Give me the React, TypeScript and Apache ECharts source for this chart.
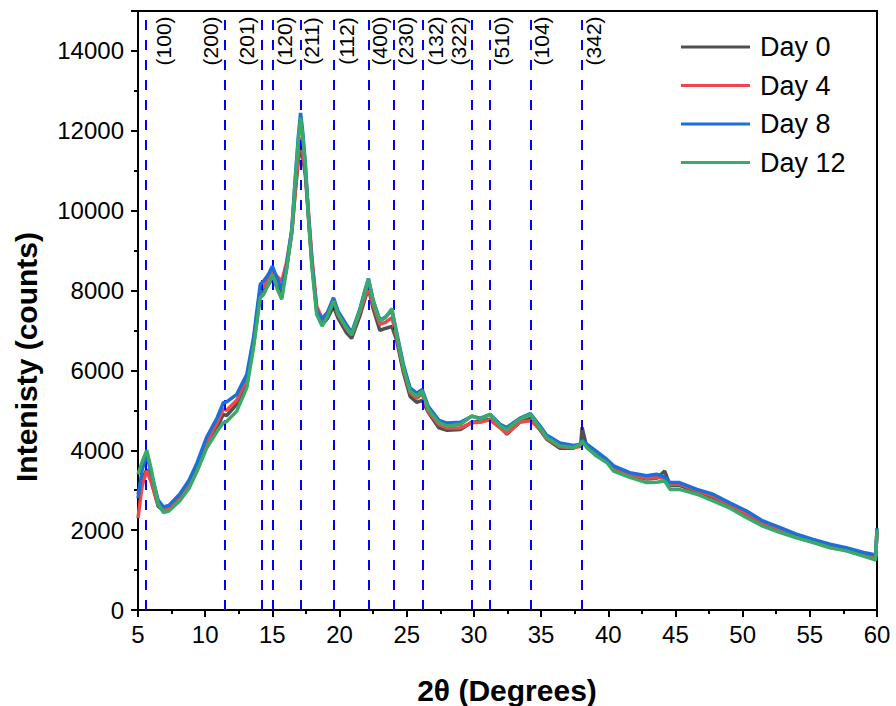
import React, { useEffect, useRef } from "react";
import * as echarts from "echarts";

const twoTheta = [5.0, 5.3, 5.65, 6.0, 6.5, 6.9, 7.3, 8.1, 8.8, 9.4, 10.1, 10.9, 11.35, 11.6, 12.35, 13.1, 13.6, 14.1, 14.35, 14.7, 15.0, 15.35, 15.7, 16.05, 16.45, 16.7, 16.93, 17.1, 17.25, 17.45, 17.7, 17.95, 18.3, 18.7, 19.1, 19.55, 19.9, 20.5, 20.9, 21.5, 21.9, 22.15, 22.5, 23.0, 23.4, 23.9, 24.25, 24.75, 25.25, 25.75, 26.15, 26.6, 27.4, 28.0, 29.0, 29.85, 30.45, 31.2, 31.95, 32.45, 33.4, 34.2, 34.9, 35.4, 36.4, 37.4, 37.95, 38.05, 38.4, 39.1, 39.9, 40.4, 41.6, 42.85, 43.6, 44.2, 44.6, 45.3, 46.6, 47.8, 49.0, 50.3, 51.5, 52.8, 54.0, 55.25, 56.5, 57.7, 59.0, 59.75, 59.9, 60.0];

const day0 = [2900, 3250, 3520, 3200, 2600, 2480, 2520, 2770, 3080, 3520, 4100, 4580, 4900, 4870, 5150, 5700, 6650, 7950, 8000, 8150, 8300, 8100, 7950, 8550, 9450, 10450, 11250, 11580, 11350, 10900, 9800, 8700, 7500, 7150, 7300, 7600, 7300, 6950, 6800, 7350, 7800, 8060, 7550, 7000, 7050, 7100, 6750, 5950, 5350, 5200, 5250, 4950, 4560, 4500, 4520, 4700, 4720, 4780, 4580, 4400, 4700, 4800, 4520, 4280, 4050, 4050, 4150, 4570, 4080, 3900, 3720, 3540, 3380, 3280, 3300, 3480, 3120, 3120, 2960, 2820, 2630, 2400, 2170, 2000, 1850, 1720, 1600, 1520, 1400, 1340, 1330, 1950];

const day4 = [2300, 3100, 3480, 3200, 2650, 2520, 2560, 2820, 3150, 3600, 4200, 4700, 5040, 5000, 5250, 5800, 6720, 8050, 8100, 8300, 8500, 8350, 8230, 8700, 9500, 10500, 11400, 11830, 11500, 11000, 9900, 8800, 7600, 7300, 7450, 7700, 7400, 7050, 6880, 7450, 7850, 8080, 7650, 7150, 7200, 7320, 6850, 6050, 5450, 5300, 5420, 4980, 4640, 4560, 4560, 4690, 4700, 4760, 4560, 4420, 4700, 4740, 4550, 4300, 4090, 4060, 4100, 4200, 4100, 3920, 3740, 3560, 3400, 3300, 3320, 3300, 3150, 3150, 2990, 2850, 2650, 2420, 2190, 2020, 1870, 1740, 1620, 1530, 1420, 1360, 1350, 2000];

const day8 = [2800, 3500, 3900, 3400, 2750, 2580, 2620, 2900, 3250, 3690, 4320, 4820, 5190, 5210, 5400, 5900, 6820, 8160, 8240, 8400, 8610, 8300, 8040, 8600, 9550, 10800, 11850, 12450, 12000, 11200, 9800, 8650, 7500, 7270, 7450, 7820, 7480, 7150, 6950, 7520, 8020, 8300, 7760, 7260, 7330, 7500, 6950, 6150, 5560, 5430, 5520, 5100, 4750, 4680, 4700, 4850, 4800, 4900, 4650, 4570, 4800, 4920, 4620, 4380, 4180, 4120, 4150, 4250, 4150, 3980, 3770, 3610, 3440, 3360, 3400, 3330, 3190, 3190, 3020, 2900, 2690, 2480, 2230, 2060, 1900, 1770, 1650, 1560, 1440, 1390, 1380, 2050];

const day12 = [3400, 3700, 4000, 3500, 2650, 2440, 2480, 2730, 3050, 3480, 4050, 4480, 4690, 4720, 4980, 5570, 6570, 7820, 7900, 8150, 8400, 8050, 7780, 8500, 9490, 10740, 11740, 12330, 11900, 11160, 9740, 8570, 7400, 7110, 7350, 7740, 7400, 7070, 6900, 7490, 7990, 8280, 7740, 7240, 7320, 7550, 6900, 6070, 5480, 5360, 5480, 5030, 4690, 4610, 4650, 4860, 4780, 4900, 4610, 4520, 4780, 4900, 4570, 4320, 4110, 4070, 4150, 4230, 4070, 3860, 3690, 3480, 3320, 3190, 3200, 3230, 3020, 3020, 2900, 2730, 2560, 2310, 2100, 1940, 1810, 1690, 1560, 1480, 1350, 1270, 1250, 2000];

const seriesNames = ["Day 0", "Day 4", "Day 8", "Day 12"];
const seriesColors = ["#505050", "#f04848", "#1a6fd8", "#3aaa6a"];

const peakPositions = [5.6, 11.47, 14.23, 15.0, 17.13, 19.6, 22.19, 24.03, 26.2, 29.87, 31.21, 34.22, 38.06];
const peakLabels = ["(100)", "(200)", "(201)", "(120)", "(211)", "(112)", "(400)", "(230)", "(132)", "(322)", "(510)", "(104)", "(342)"];
const peakLabelX = [6.88, 10.36, 13.09, 15.94, 17.92, 20.53, 22.96, 24.94, 27.17, 28.83, 32.06, 35.04, 38.88];
const peakLabelY = 14250;

const xTicks = { min: 5, max: 60, interval: 5 };
const yTicks = { min: 0, max: 15000, interval: 2000 };

const FONT = "Liberation Sans, Arial, sans-serif";

export default function App() {
  const ref = useRef<HTMLDivElement>(null);
  useEffect(() => {
    if (!ref.current) return;
    const chart = echarts.init(ref.current, null, { renderer: "svg" });
    const allSeries = [day0, day4, day8, day12];
    const lineSeries = allSeries.map((vals, i) => ({
      name: seriesNames[i],
      type: "line",
      showSymbol: false,
      symbol: "none",
      data: twoTheta.map((x, j) => [x, vals[j]]),
      lineStyle: { width: 3.5, color: seriesColors[i] },
      itemStyle: { color: seriesColors[i] },
      z: 3 + i,
    }));
    const option: any = {
      animation: false,
      backgroundColor: "#ffffff",
      textStyle: { fontFamily: FONT },
      grid: {
        left: 138,
        right: 19,
        top: 11,
        bottom: 96,
        show: true,
        borderColor: "#000",
        borderWidth: 2,
        backgroundColor: "transparent",
        outerBoundsMode: "none",
        containLabel: false,
      },
      legend: {
        data: seriesNames,
        orient: "vertical",
        left: 681,
        top: 32,
        padding: 0,
        icon: "rect",
        itemWidth: 69,
        itemHeight: 3,
        itemGap: 8.5,
        textStyle: { fontSize: 27, color: "#000", fontFamily: FONT, lineHeight: 30, padding: [0, 0, 0, 5] },
      },
      xAxis: {
        type: "value",
        min: xTicks.min,
        max: xTicks.max,
        interval: xTicks.interval,
        axisLine: { show: true, onZero: false, lineStyle: { color: "#000", width: 2 } },
        axisTick: { show: true, inside: false, length: 7, lineStyle: { color: "#000", width: 2 } },
        minorTick: { show: true, splitNumber: 2, length: 4, lineStyle: { color: "#000", width: 2 } },
        splitLine: { show: false },
        axisLabel: { fontSize: 24, color: "#000", margin: 12, fontFamily: FONT, formatter: (v: number) => String(v) },
      },
      yAxis: {
        type: "value",
        min: yTicks.min,
        max: yTicks.max,
        interval: yTicks.interval,
        axisLine: { show: true, onZero: false, lineStyle: { color: "#000", width: 2 } },
        axisTick: { show: true, inside: false, length: 7, lineStyle: { color: "#000", width: 2 } },
        minorTick: { show: true, splitNumber: 2, length: 4, lineStyle: { color: "#000", width: 2 } },
        splitLine: { show: false },
        axisLabel: {
          fontSize: 24,
          color: "#000",
          margin: 14,
          fontFamily: FONT,
          showMaxLabel: false,
          formatter: (v: number) => String(v),
        },
      },
      graphic: [
        {
          type: "text",
          x: 26,
          y: 357,
          rotation: Math.PI / 2,
          style: {
            text: "Intenisty (counts)",
            font: `bold 30px ${FONT}`,
            fill: "#000",
            textAlign: "center",
            textVerticalAlign: "middle",
            verticalAlign: "middle",
          },
        },
        {
          type: "text",
          x: 507,
          y: 690,
          style: {
            text: "2θ (Degrees)",
            font: `bold 30px ${FONT}`,
            fill: "#000",
            textAlign: "center",
            textVerticalAlign: "middle",
            verticalAlign: "middle",
          },
        },
      ],
      series: [
        ...lineSeries,
        {
          name: "peaks",
          type: "scatter",
          symbolSize: 0,
          z: 10,
          itemStyle: { opacity: 1 },
          data: peakLabelX.map((x, i) => [x, peakLabelY, peakLabels[i]]),
          label: {
            show: true,
            position: "inside",
            rotate: 90,
            fontSize: 21,
            color: "#000",
            opacity: 1,
            textBorderWidth: 0,
            textBorderColor: "transparent",
            fontFamily: FONT,
            formatter: (p: any) => p.value[2],
          },
          markLine: {
            silent: true,
            symbol: ["none", "none"],
            label: { show: false },
            lineStyle: { color: "#0000ff", width: 2, type: [10, 10], opacity: 1 },
            data: peakPositions.map((x) => ({ xAxis: x })),
          },
        },
      ],
    };
    chart.setOption(option);
    return () => chart.dispose();
  }, []);
  return (
    <div
      ref={ref}
      style={{ position: "fixed", left: 0, top: 0, width: 896, height: 706, background: "#fff" }}
    />
  );
}
